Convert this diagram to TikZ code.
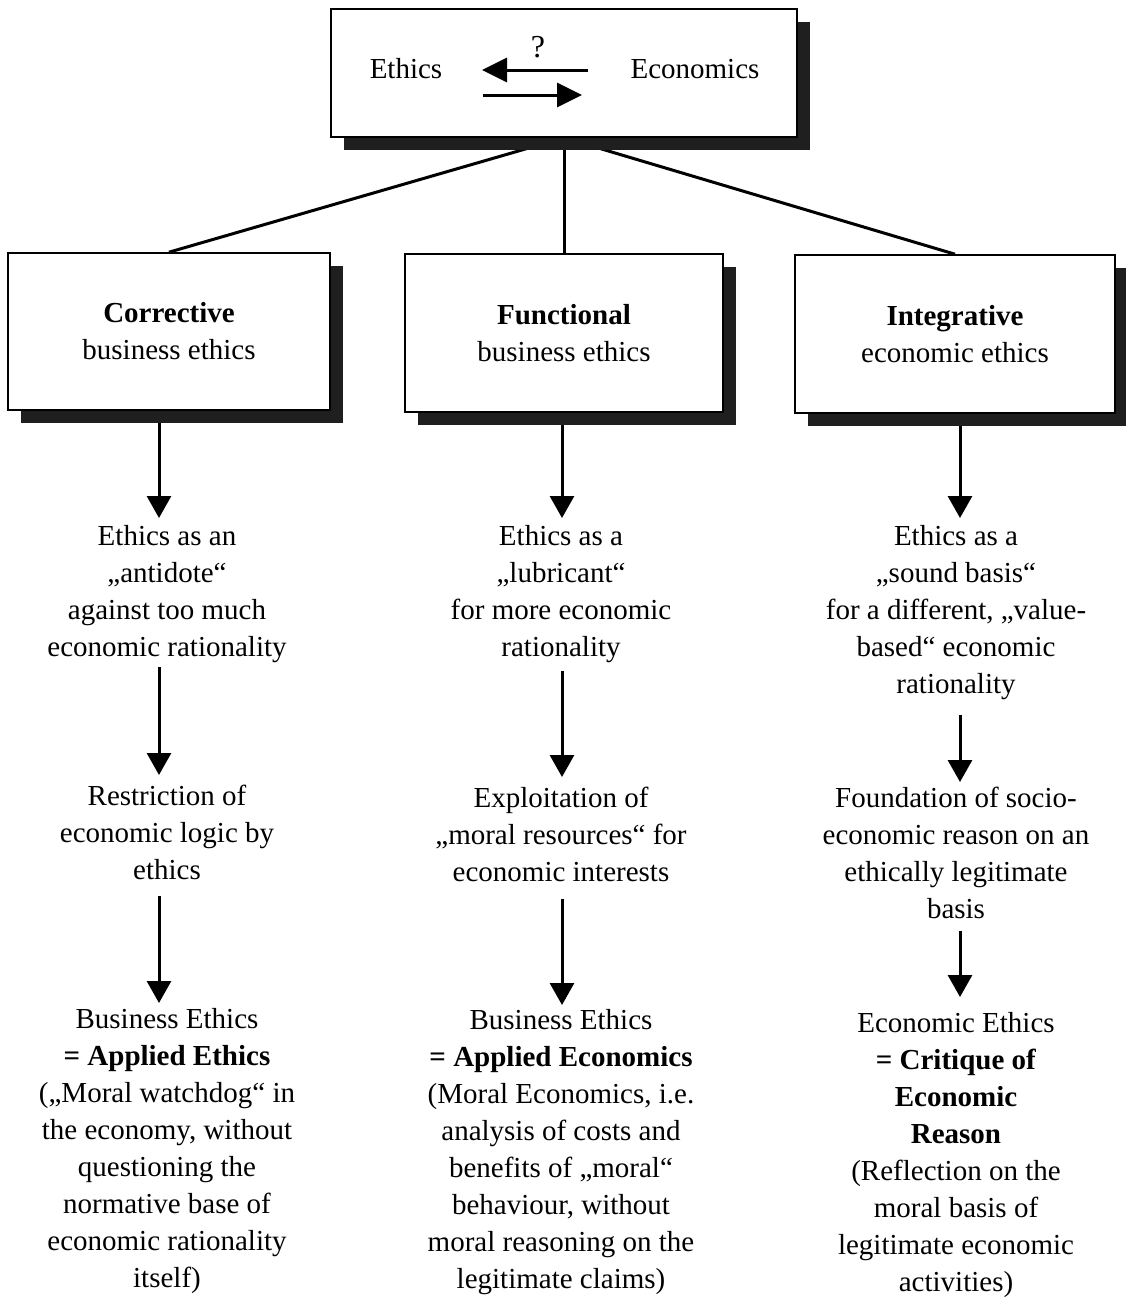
\documentclass[tikz,border=0pt]{standalone}
\usepackage{fontspec}
\setmainfont{Liberation Serif}
\usetikzlibrary{arrows.meta,shadows,backgrounds}
\begin{document}
\begin{tikzpicture}[x=1pt,y=-1pt,
  box/.style={draw=black, line width=1.6pt, fill=white, inner sep=0pt, align=center,
     font=\fontsize{29}{37}\selectfont,
     drop shadow={shadow xshift=13pt, shadow yshift=-13pt, opacity=1, fill=black!88}},
  txt/.style={anchor=north, inner sep=0pt, align=center, font=\fontsize{29}{37}\selectfont},
  lbl/.style={anchor=base, inner sep=0pt, font=\fontsize{29}{37}\selectfont},
  arr/.style={line width=3pt, -{Triangle[length=22pt,width=24pt]}},
  duo/.style={line width=3pt, -{Triangle[length=25pt,width=24pt]}},
  link/.style={line width=3pt},
]
\useasboundingbox (0,0) rectangle (1125,1299);

% top box
\node[box, minimum width=466pt, minimum height=128pt] (top) at (564,73) {};
\node[lbl] (eth) at (406,78) {Ethics};
\node[lbl] (eco) at (695,78) {Economics};
\node[lbl, font=\fontsize{32}{37}\selectfont] (q) at (538,57) {?};
\coordinate (la1) at (588,70);
\coordinate (la2) at (482,70);
\coordinate (ra1) at (483,95);
\coordinate (ra2) at (582,95);
\draw[duo] (la1) -- (la2);
\draw[duo] (ra1) -- (ra2);

% second-level boxes
\node[box, minimum width=322pt, minimum height=157pt] (boxL) at (169,331.5) {\textbf{Corrective}\\business ethics};
\node[box, minimum width=318pt, minimum height=158pt] (boxM) at (564,333) {\textbf{Functional}\\business ethics};
\node[box, minimum width=320pt, minimum height=158pt] (boxR) at (955,334) {\textbf{Integrative}\\economic ethics};

% column axes
\coordinate (axL) at (159,0);
\coordinate (axM) at (562,0);
\coordinate (axR) at (960,0);

% left column
\node[txt] (tL1) at (167,525) {Ethics as an\\„antidote“\\against too much\\economic rationality};
\node[txt] (tL2) at (167,785) {Restriction of\\economic logic by\\ethics};
\node[txt] (tL3) at (167,1008) {Business Ethics\\\textbf{= Applied Ethics}\\(„Moral watchdog“ in\\the economy, without\\questioning the\\normative base of\\economic rationality\\itself)};

% middle column
\node[txt] (tM1) at (561,525) {Ethics as a\\„lubricant“\\for more economic\\rationality};
\node[txt] (tM2) at (561,787) {Exploitation of\\„moral resources“ for\\economic interests};
\node[txt] (tM3) at (561,1009) {Business Ethics\\\textbf{= Applied Economics}\\(Moral Economics, i.e.\\analysis of costs and\\benefits of „moral“\\behaviour, without\\moral reasoning on the\\legitimate claims)};

% right column
\node[txt] (tR1) at (956,525) {Ethics as a\\„sound basis“\\for a different, „value-\\based“ economic\\rationality};
\node[txt] (tR2) at (956,787) {Foundation of socio-\\economic reason on an\\ethically legitimate\\basis};
\node[txt] (tR3) at (956,1012) {Economic Ethics\\\textbf{= Critique of}\\\textbf{Economic}\\\textbf{Reason}\\(Reflection on the\\moral basis of\\legitimate economic\\activities)};

\begin{scope}[on background layer]
  \fill[white] (0,0) rectangle (1125,1299);
  \draw[link] (top.south) -- (boxL.north);
  \draw[link] (top.south) -- (boxM.north);
  \draw[link] (top.south) -- (boxR.north);
  % left arrows
  \draw[arr, shorten >=7pt] (boxL.south -| axL) -- (tL1.north -| axL);
  \draw[arr, shorten <=4pt, shorten >=10pt] (tL1.south -| axL) -- (tL2.north -| axL);
  \draw[arr, shorten <=16pt, shorten >=5pt] (tL2.south -| axL) -- (tL3.north -| axL);
  % middle arrows
  \draw[arr, shorten >=7pt] (boxM.south -| axM) -- (tM1.north -| axM);
  \draw[arr, shorten <=8pt, shorten >=10pt] (tM1.south -| axM) -- (tM2.north -| axM);
  \draw[arr, shorten <=17pt, shorten >=4pt] (tM2.south -| axM) -- (tM3.north -| axM);
  % right arrows
  \draw[arr, shorten >=7pt] (boxR.south -| axR) -- (tR1.north -| axR);
  \draw[arr, shorten <=15pt, shorten >=5pt] (tR1.south -| axR) -- (tR2.north -| axR);
  \draw[arr, shorten <=12pt, shorten >=15pt] (tR2.south -| axR) -- (tR3.north -| axR);
\end{scope}
\end{tikzpicture}
\end{document}
